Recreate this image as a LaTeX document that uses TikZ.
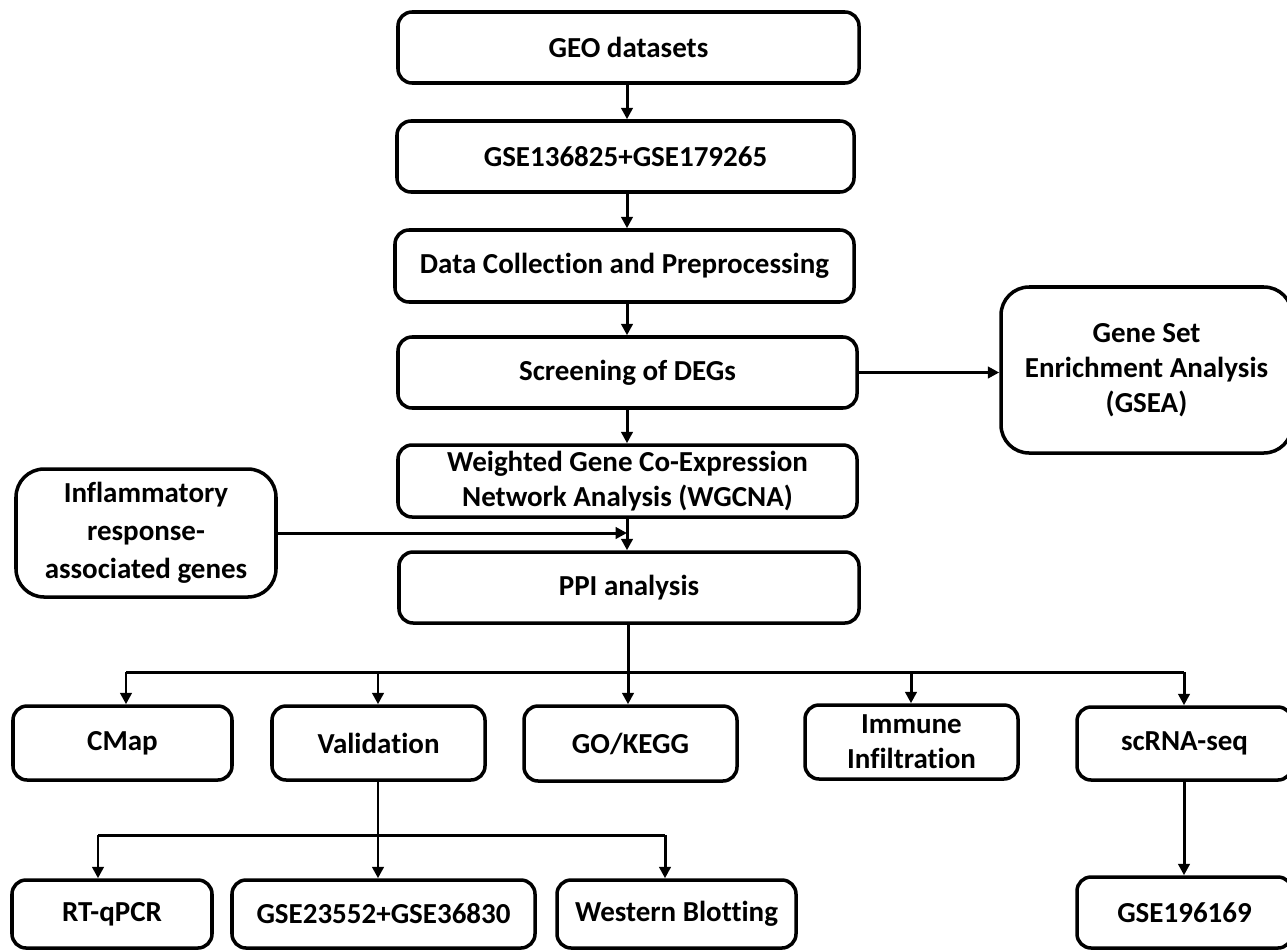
\documentclass[tikz,border=0pt]{standalone}
\usepackage{fontspec}
\setmainfont{Carlito}[Ligatures=NoCommon]
\usetikzlibrary{arrows.meta,calc}
\begin{document}
\begin{tikzpicture}[x=0.02cm,y=-0.02cm,
  box/.style={draw=black, line width=2pt, rounded corners=8pt, inner sep=0pt, fill=white,
    align=center, font=\fontsize{16.5}{20}\selectfont\bfseries},
  bigbox/.style={box, rounded corners=16pt},
  sz/.style 2 args={minimum width={#1*0.02cm}, minimum height={#2*0.02cm}},
  arr/.style={line width=1.7pt, -{Triangle[length=6.5pt,width=6.5pt]}},
  ln/.style={line width=1.7pt}]
\useasboundingbox (0,0) rectangle (1287,950);
% main chain
\node[box, sz={461}{71}] (geo) at (628.5,47.5) {GEO datasets};
\node[box, sz={457}{71}] (gse) at (625.5,156.5) {GSE136825+GSE179265};
\node[box, sz={459}{72}] (data) at (624.5,266) {Data Collection and Preprocessing};
\node[box, sz={459}{71}] (deg) at (627.5,372.5) {Screening of DEGs};
\node[box, sz={459}{72}] (wgcna) at (627.5,481) {Weighted Gene Co-Expression\\Network Analysis (WGCNA)};
\node[box, sz={460}{71}] (ppi) at (629,587.5) {PPI analysis};
\node[bigbox, sz={291}{166}] (gsea) at (1146.5,370) {Gene Set\\Enrichment Analysis\\(GSEA)};
\node[bigbox, sz={260}{128}, font=\fontsize{16.5}{21.5}\selectfont\bfseries] (infl) at (146,533) {Inflammatory\\response-\\associated genes};
% second row
\node[box, sz={219}{74}] (cmap) at (122.5,743) {CMap};
\node[box, sz={213}{74}] (valid) at (378.5,743) {Validation};
\node[box, sz={213}{75}] (go) at (630.5,743.5) {GO/KEGG};
\node[box, sz={213}{74}] (imm) at (911.5,742) {Immune\\Infiltration};
\node[box, sz={215}{73}] (sc) at (1184.5,743.5) {scRNA-seq};
% third row
\node[box, sz={200}{68}] (rt) at (112,914) {RT-qPCR};
\node[box, sz={303}{68}] (gse2) at (383.5,914) {GSE23552+GSE36830};
\node[box, sz={239}{68}] (wb) at (676.5,914) {Western Blotting};
\node[box, sz={215}{71}] (gse3) at (1184.5,912.5) {GSE196169};
% coordinates
\coordinate (x1) at (627,0);
\coordinate (join) at (627,533);
\coordinate (bus) at (628,672);
\coordinate (bus2) at (378,835);
% chain arrows
\draw[arr] (geo.south -| x1) -- (gse.north -| x1);
\draw[arr] (gse.south -| x1) -- (data.north -| x1);
\draw[arr] (data.south -| x1) -- (deg.north -| x1);
\draw[arr] (deg.south -| x1) -- (wgcna.north -| x1);
\draw[arr] (wgcna.south -| x1) -- (ppi.north -| x1);
\draw[arr] (infl.east) -- (join);
\draw[arr] (deg.east) -- (deg.east -| gsea.west);
% PPI bus
\draw[ln] (ppi.south -| bus) -- (bus);
\draw[ln] (126,672) -- (1184,672);
\draw[arr] (126,672) -- (cmap.north -| 126,0);
\draw[arr] (378,672) -- (valid.north -| 378,0);
\draw[arr] (628,672) -- (go.north -| 628,0);
\draw[arr] (911,672) -- (imm.north -| 911,0);
\draw[arr] (1184,672) -- (sc.north -| 1184,0);
% validation bus
\draw[arr] (valid.south -| bus2) -- (gse2.north -| bus2);
\draw[ln] (98,835) -- (665,835);
\draw[arr] (98,835) -- (rt.north -| 98,0);
\draw[arr] (665,835) -- (wb.north -| 665,0);
% scRNA
\draw[arr] (sc.south -| 1184,0) -- (gse3.north -| 1184,0);
\end{tikzpicture}
\end{document}
